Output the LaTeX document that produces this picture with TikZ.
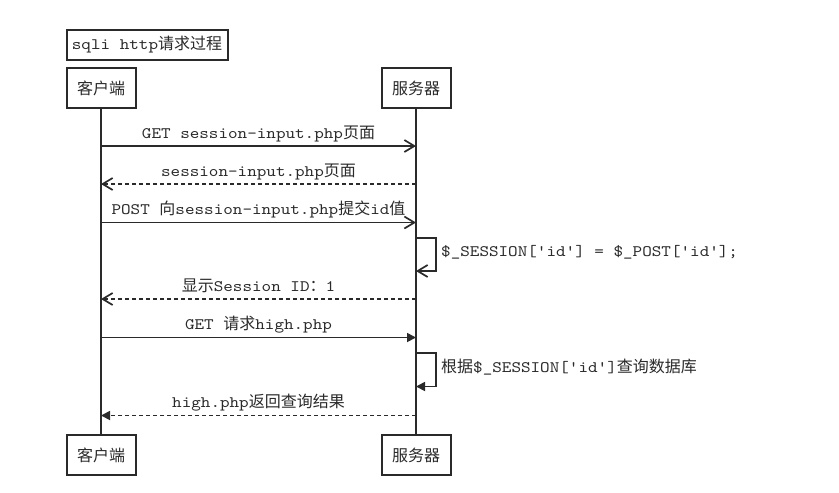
\documentclass[tikz,border=0pt]{standalone}
\usepackage{fontspec}
\setmainfont{lmmono10-regular.otf}[FakeStretch=1.14, Ligatures=TeXOff]
\newfontfamily\cjk{Noto Sans CJK SC}
\usetikzlibrary{arrows.meta}
\definecolor{ink}{HTML}{2A2A2A}
\newcommand{\zh}[1]{{\cjk #1}}

\begin{document}
\begin{tikzpicture}[x=1pt, y=-1pt,
        font=\fontsize{16pt}{18pt}\selectfont, text=ink,
        box/.style={draw=ink, line width=2pt, fill=white, minimum width=69pt, minimum height=40pt, inner sep=0pt},
        life/.style={ink, line width=2pt},
        msg/.style={ink, line width=1.7pt},
        reply/.style={msg, dash pattern=on 4.5pt off 2.5pt},
        open/.style={-{Straight Barb[length=10pt, width=12pt]}},
        full/.style={-{Triangle[length=9pt, width=9pt]}},
        lbl/.style={anchor=base, yshift=8pt, inner sep=0pt},
        note/.style={anchor=base west, inner sep=0pt}]
    \useasboundingbox (0,0) rectangle (839,493);

    \node[box, minimum width=161pt, minimum height=30pt] (title) at (147,44.5) {sqli http\zh{请求过程}};

    \node[box] (cli) at (101,88) {\zh{客户端}};
    \node[box] (srv) at (416,88) {\zh{服务器}};
    \node[box] (cli2) at (101,455) {\zh{客户端}};
    \node[box] (srv2) at (416,455) {\zh{服务器}};

    \draw[life] (cli.south) -- (cli2.north);
    \draw[life] (srv.south) -- (srv2.north);

    % steps, top to bottom
    \coordinate (m1) at (0,146);
    \coordinate (m2) at (0,184);
    \coordinate (m3) at (0,222.5);
    \coordinate (l1a) at (0,238);
    \coordinate (l1b) at (0,271);
    \coordinate (m4) at (0,299);
    \coordinate (m5) at (0,337.5);
    \coordinate (l2a) at (0,353);
    \coordinate (l2b) at (0,386.5);
    \coordinate (m6) at (0,415.5);

    \draw[msg, open] (cli |- m1) -- (srv |- m1) node[midway, lbl] {GET session-input.php\zh{页面}};
    \draw[reply, open] (srv |- m2) -- (cli |- m2) node[midway, lbl] {session-input.php\zh{页面}};
    \draw[msg, open] (cli |- m3) -- (srv |- m3) node[midway, lbl] {POST \zh{向}session-input.php\zh{提交}id\zh{值}};

    \draw[msg, open] (srv |- l1a) -- ++(20,0) |- (srv |- l1b);
    \node[note] (set) at (441,256) {\$\_SESSION['id'] = \$\_POST['id'];};

    \draw[reply, open] (srv |- m4) -- (cli |- m4) node[midway, lbl] {\zh{显示}Session ID\zh{：}1};
    \draw[msg, full] (cli |- m5) -- (srv |- m5) node[midway, lbl] {GET \zh{请求}high.php};

    \draw[msg, full] (srv |- l2a) -- ++(20,0) |- (srv |- l2b);
    \node[note] (query) at (441,372) {\zh{根据}\$\_SESSION['id']\zh{查询数据库}};

    \draw[reply, full] (srv |- m6) -- (cli |- m6) node[midway, lbl] {high.php\zh{返回查询结果}};
\end{tikzpicture}
\end{document}
